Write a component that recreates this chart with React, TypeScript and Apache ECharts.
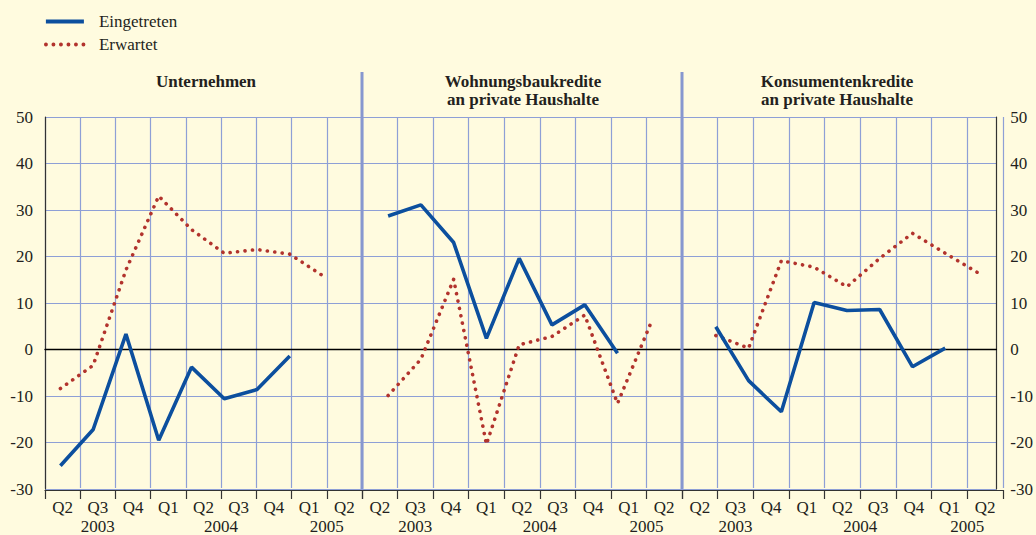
import React, { useEffect, useRef } from "react";
import * as echarts from "echarts";

// ---------- data ----------
const quarters = ["Q2", "Q3", "Q4", "Q1", "Q2", "Q3", "Q4", "Q1", "Q2"];
const quarterYears = ["2003", "2003", "2003", "2004", "2004", "2004", "2004", "2005", "2005"];
const panelTitles = ["Unternehmen", "Wohnungsbaukredite\nan private Haushalte", "Konsumentenkredite\nan private Haushalte"];
const seriesNames = ["Eingetreten", "Erwartet"];
const yTicks = { min: -30, max: 50, interval: 10 };

const unternehmenEingetreten = [-25.0, -17.2, 3.3, -19.5, -3.8, -10.6, -8.6, -1.4];
const unternehmenErwartet = [-8.4, -3.4, 17.1, 33.0, 25.8, 20.7, 21.5, 20.5, 15.9];
const wohnungEingetreten = [28.7, 31.1, 23.0, 2.4, 19.6, 5.3, 9.6, -0.8];
const wohnungErwartet = [-9.9, -2.1, 15.1, -20.4, 1.0, 2.8, 7.4, -11.6, 5.4];
const konsumEingetreten = [4.9, -6.7, -13.4, 10.1, 8.4, 8.6, -3.7, 0.3];
const konsumErwartet = [3.0, 0.3, 19.1, 17.7, 13.5, 19.6, 25.0, 20.7, 16.5];

const eingetretenPanels = [unternehmenEingetreten, wohnungEingetreten, konsumEingetreten];
const erwartetPanels = [unternehmenErwartet, wohnungErwartet, konsumErwartet];

// ---------- layout / style ----------
const FONT = "'Liberation Serif', 'Times New Roman', Times, serif";
const TEXT = "#231f20";
const BG = "#fffbdf";
const GRID = "#8e9fd6";
const BLUE = "#0c4f9e";
const RED = "#b2332d";
const PLOT_TOP = 117;
const PLOT_H = 372;
const panelEdges = [45, 362, 682, 1003];
const titleCenters = [206, 523, 837];
const PANEL_STEP = 10; // data slots per panel (9 quarters + gap)
const DATA_X_MIN = -0.47;
const DATA_X_MAX = 28.56;

function buildSeriesData(panels: number[][]) {
  const out: any[] = [];
  panels.forEach((vals, p) => {
    vals.forEach((v, i) => out.push([p * PANEL_STEP + i, v]));
    out.push([p * PANEL_STEP + PANEL_STEP - 1, null]);
  });
  return out;
}

function yearCenters() {
  const res: { year: string; pos: number }[] = [];
  quarterYears.forEach((y, i) => {
    const last = res[res.length - 1];
    if (last && last.year === y) return;
    let j = i;
    while (j + 1 < quarterYears.length && quarterYears[j + 1] === y) j++;
    res.push({ year: y, pos: (i + j) / 2 });
  });
  return res;
}

export default function App() {
  const ref = useRef<HTMLDivElement>(null);
  useEffect(() => {
    if (!ref.current) return;
    const chart = echarts.init(ref.current, null, { renderer: "svg" });
    const years = yearCenters();
    const grids: any[] = panelEdges.slice(0, 3).map((l, i) => ({
      left: l,
      top: PLOT_TOP,
      width: panelEdges[i + 1] - l,
      height: PLOT_H,
    }));
    grids.push({ left: panelEdges[0], top: PLOT_TOP, width: panelEdges[3] - panelEdges[0], height: PLOT_H });

    const catAxes = [0, 1, 2].map((g) => ({
      type: "category",
      gridIndex: g,
      data: quarters,
      boundaryGap: true,
      position: "bottom",
      offset: 2,
      axisLine: { show: true, onZero: false, lineStyle: { color: "#333", width: 1.2 } },
      axisTick: { show: true, length: 9, lineStyle: { color: "#333", width: 1.2 } },
      axisLabel: { interval: 0, margin: 9, fontFamily: FONT, fontSize: 17, color: TEXT },
      splitLine: { show: true, interval: 0, lineStyle: { color: GRID, width: 1.2 } },
    }));
    const yearAxes = [0, 1, 2].map((g) => ({
      type: "value",
      gridIndex: g,
      position: "bottom",
      offset: 22,
      min: -0.5,
      max: quarters.length - 0.5,
      interval: 0.5,
      axisLine: { show: false, onZero: false },
      axisTick: { show: false },
      splitLine: { show: false },
      axisLabel: {
        margin: 8,
        showMinLabel: true,
        showMaxLabel: true,
        fontFamily: FONT,
        fontSize: 17,
        color: TEXT,
        formatter: (v: number) => {
          const f = years.find((y) => Math.abs(y.pos - v) < 1e-6);
          return f ? f.year : "";
        },
      },
    }));
    const dataX = {
      type: "value",
      gridIndex: 3,
      min: DATA_X_MIN,
      max: DATA_X_MAX,
      axisLine: { show: true, onZero: true, lineStyle: { color: "#000", width: 1.4 } },
      axisTick: { show: false },
      axisLabel: { show: false },
      splitLine: { show: false },
    };
    const hiddenY = [0, 1, 2].map((g) => ({ type: "value", gridIndex: g, min: yTicks.min, max: yTicks.max, show: false }));
    const labelStyle = { fontFamily: FONT, fontSize: 17, color: TEXT };
    const yLeft = {
      type: "value",
      gridIndex: 3,
      position: "left",
      ...yTicks,
      axisLine: { show: true, onZero: false, lineStyle: { color: "#333", width: 1.2 } },
      axisTick: { show: false },
      axisLabel: { ...labelStyle, margin: 12 },
      splitLine: { show: true, lineStyle: { color: GRID, width: 1.2 } },
    };
    const yRight = {
      type: "value",
      gridIndex: 3,
      position: "right",
      ...yTicks,
      axisLine: { show: true, onZero: false, lineStyle: { color: "#333", width: 1.2 } },
      axisTick: { show: false },
      axisLabel: { ...labelStyle, margin: 14 },
      splitLine: { show: false },
    };

    const option: any = {
      animation: false,
      backgroundColor: BG,
      textStyle: { fontFamily: FONT },
      title: panelTitles.map((t, i) => ({
        text: t,
        left: titleCenters[i],
        top: 72,
        textAlign: "center",
        padding: 0,
        textStyle: { fontFamily: FONT, fontSize: 17, fontWeight: "bold", color: TEXT, lineHeight: 18 },
      })),
      legend: {
        orient: "vertical",
        left: 44,
        top: 13,
        itemWidth: 38,
        itemHeight: 12,
        itemGap: 6,
        padding: 0,
        data: seriesNames,
        itemStyle: { opacity: 0, color: "transparent", borderWidth: 0 },
        lineStyle: { width: 3.8 },
        textStyle: { fontFamily: FONT, fontSize: 17, color: TEXT, padding: [0, 0, 0, 10] },
      },
      grid: grids,
      xAxis: [...catAxes, ...yearAxes, dataX],
      yAxis: [...hiddenY, yLeft, yRight],
      graphic: [1, 2].map((k) => ({
        type: "line",
        shape: { x1: panelEdges[k], y1: 72, x2: panelEdges[k], y2: PLOT_TOP + PLOT_H },
        style: { stroke: "#8797cf", lineWidth: 3 },
        z: 5,
      })),
      series: [
        {
          name: seriesNames[0],
          type: "line",
          xAxisIndex: 6,
          yAxisIndex: 3,
          data: buildSeriesData(eingetretenPanels),
          symbol: "none",
          connectNulls: false,
          color: BLUE,
          lineStyle: { color: BLUE, width: 3.6 },
          z: 4,
        },
        {
          name: seriesNames[1],
          type: "line",
          xAxisIndex: 6,
          yAxisIndex: 3,
          data: buildSeriesData(erwartetPanels),
          symbol: "none",
          connectNulls: false,
          color: RED,
          lineStyle: { color: RED, width: 3.6, type: [0.1, 7.4], cap: "round" },
          z: 3,
        },
      ],
    };
    chart.setOption(option);
    return () => chart.dispose();
  }, []);
  return <div ref={ref} style={{ position: "fixed", left: 0, top: 0, width: 1036, height: 535 }} />;
}
